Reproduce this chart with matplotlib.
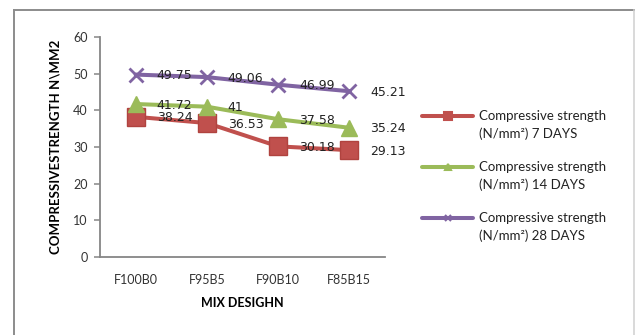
import matplotlib
matplotlib.use("Agg")
import matplotlib.pyplot as plt
from matplotlib.lines import Line2D

plt.rcParams["font.family"] = ["Lato", "DejaVu Sans"]

mixes = ["F100B0", "F95B5", "F90B10", "F85B15"]
days_7 = [38.24, 36.53, 30.18, 29.13]
days_14 = [41.72, 41, 37.58, 35.24]
days_28 = [49.75, 49.06, 46.99, 45.21]
series_names = [
    "Compressive strength\n(N/mm²) 7 DAYS",
    "Compressive strength\n(N/mm²) 14 DAYS",
    "Compressive strength\n(N/mm²) 28 DAYS",
]
y_ticks = [0, 10, 20, 30, 40, 50, 60]

RED = "#C0504D"
GREEN = "#9BBB59"
PURPLE = "#8064A2"
AXIS = "#868686"

W, H = 636, 335
fig = plt.figure(figsize=(W / 100, H / 100), dpi=100)
ax = fig.add_axes([100 / W, 1 - 257 / H, 285 / W, 220 / H])

x = list(range(len(mixes)))
styles = [
    (days_7, RED, dict(marker="s", markersize=13, markeredgecolor="#B0433F")),
    (days_14, GREEN, dict(marker="^", markersize=11, markeredgecolor=GREEN)),
    (days_28, PURPLE, dict(marker="x", markersize=10, markeredgewidth=2, markeredgecolor=PURPLE)),
]
for vals, col, mk in styles:
    ax.plot(x, vals, color=col, linewidth=2.9, solid_capstyle="round", zorder=3, **mk)
    for xi, v in zip(x, vals):
        ax.annotate(f"{v:g}", (xi, v), xytext=(21, -1), textcoords="offset pixels",
                    ha="left", va="center", fontsize=9, family="DejaVu Sans",
                    color="#222222", zorder=4)

ax.set_xlim(-0.5, len(mixes) - 0.5)
ax.set_ylim(0, 60)
ax.set_yticks(y_ticks)
ax.set_xticks(x)
ax.set_xticklabels(mixes)

for side in ["top", "right"]:
    ax.spines[side].set_visible(False)
for side in ["left", "bottom"]:
    ax.spines[side].set_color(AXIS)
    ax.spines[side].set_linewidth(1.3)
ax.tick_params(axis="y", length=4, width=1.1, color=AXIS, pad=5, labelsize=9, labelcolor="#333333")
ax.tick_params(axis="x", length=0, pad=12, labelsize=9, labelcolor="#333333")

ax.set_xlabel("MIX DESIGHN", fontsize=9, fontweight="bold", labelpad=8)
ax.set_ylabel("COMPRESSIVESTRENGTH N\\MM2", fontsize=9.5, fontweight="bold", labelpad=8)

# legend drawn by hand so the sample line sits on the first text line
legend_rows = [116, 167, 218]
legend_markers = [("s", 6), ("^", 5), ("x", 5)]
for row, name, (_, col, _), (m, ms) in zip(legend_rows, series_names, styles, legend_markers):
    yf = 1 - row / H
    fig.add_artist(Line2D([422 / W, 473 / W], [yf, yf], color=col, linewidth=2.9,
                          solid_capstyle="round", marker=None, transform=fig.transFigure))
    fig.add_artist(Line2D([447.5 / W], [yf], color=col, marker=m, markersize=ms,
                          markeredgewidth=1.5, transform=fig.transFigure))
    fig.text(479 / W, yf + 6 / H, name, ha="left", va="top", fontsize=9.5,
             color="#222222", linespacing=1.5)

# outer chart frame
top = 1 - 10 / H
fig.add_artist(Line2D([14 / W, 14 / W], [0, top], color="#8C8C8C", linewidth=1.4, transform=fig.transFigure))
fig.add_artist(Line2D([14 / W, 634 / W], [top, top], color="#8C8C8C", linewidth=1.4, transform=fig.transFigure))
fig.add_artist(Line2D([634 / W, 634 / W], [0, top], color="#D0D0D0", linewidth=1.1, transform=fig.transFigure))

fig.savefig("out.png", dpi=100)
